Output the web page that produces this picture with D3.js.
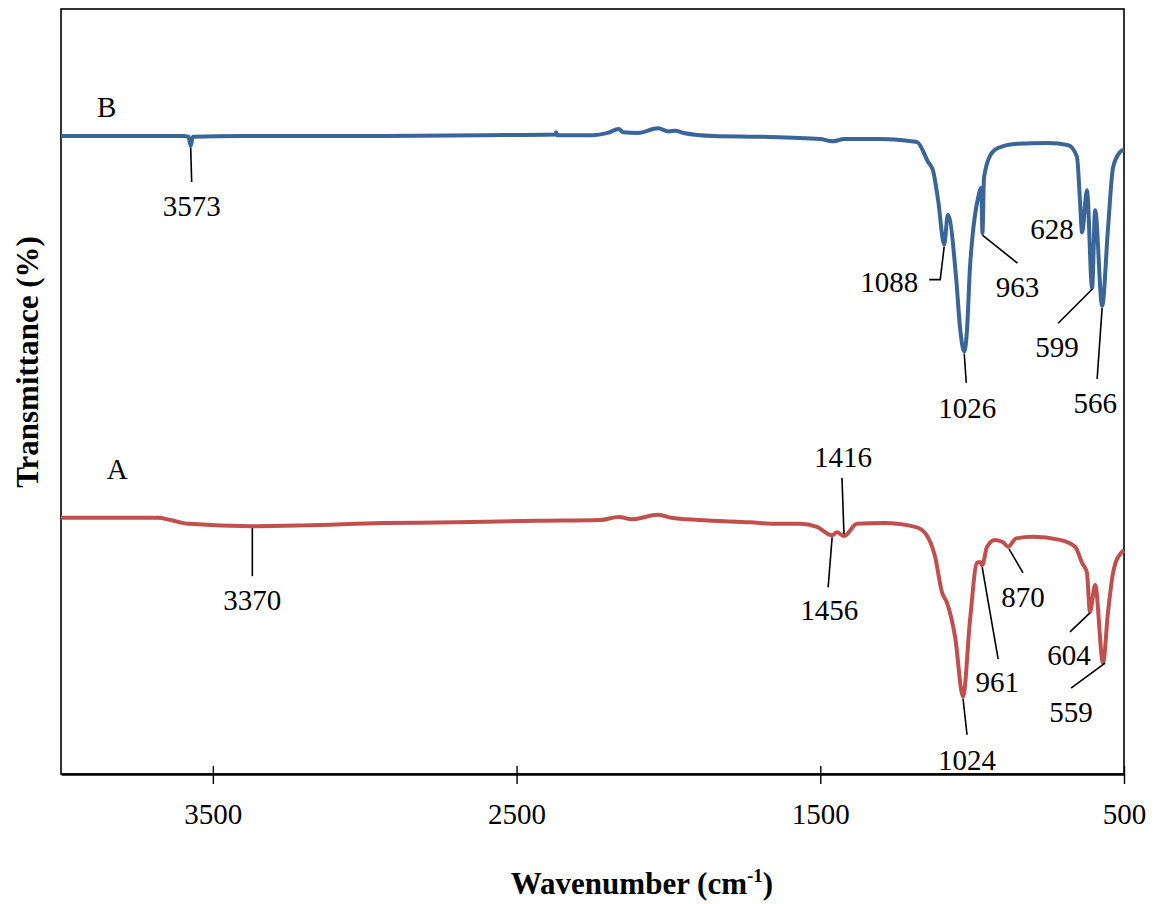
<!DOCTYPE html>
<html>
<head>
<meta charset="utf-8">
<script src="https://cdn.jsdelivr.net/npm/d3@7"></script>
<style>
  html, body { margin: 0; padding: 0; background: #fff; }
  svg text { font-family: "Liberation Serif", "Times New Roman", serif; fill: #000; }
</style>
</head>
<body>
<div id="main"></div>
<script>
// spectrum B (top, blue): [wavenumber, transmittance]
const wavenumbersB = [4000, 3800, 3600, 3580, 3573, 3566, 3400, 3000, 2600, 2372, 2370, 2366, 2250, 2200, 2163, 2150, 2100, 2034, 2000, 1978, 1950, 1850, 1700, 1500, 1461, 1420, 1300, 1200, 1181, 1145, 1129, 1112, 1092, 1080, 1053, 1040, 1026, 1017, 1007, 1000, 980, 970, 966, 961, 940, 917, 851, 750, 684, 655, 645, 638, 622, 605, 595, 572, 553, 536, 513, 500];
const valuesB = [83.4, 83.4, 83.4, 83.3, 82.1, 83.3, 83.4, 83.4, 83.5, 83.6, 83.9, 83.5, 83.5, 83.8, 84.3, 83.9, 83.8, 84.4, 84.0, 84.1, 83.8, 83.4, 83.3, 83.0, 82.7, 83.0, 83.0, 82.7, 82.6, 80.0, 78.9, 75.0, 69.2, 73.1, 65.0, 58.4, 55.2, 58.0, 66.3, 69.8, 75.4, 76.6, 70.7, 77.9, 80.9, 81.8, 82.4, 82.5, 82.2, 80.7, 75.0, 70.8, 76.3, 63.5, 73.7, 61.2, 71.1, 79.3, 81.3, 81.6];

// spectrum A (bottom, red)
const wavenumbersA = [4000, 3680, 3640, 3580, 3370, 3200, 2940, 2700, 2436, 2225, 2163, 2120, 2034, 1990, 1900, 1731, 1642, 1567, 1511, 1461, 1445, 1422, 1379, 1290, 1188, 1155, 1122, 1099, 1083, 1056, 1030, 1007, 984, 974, 967, 951, 925, 898, 882, 855, 800, 711, 661, 638, 622, 612, 595, 569, 553, 536, 510, 500];
const valuesA = [33.5, 33.5, 33.2, 32.7, 32.4, 32.5, 32.8, 32.9, 33.1, 33.2, 33.6, 33.3, 33.9, 33.5, 33.2, 32.9, 32.7, 32.7, 32.3, 31.2, 31.6, 31.1, 32.7, 32.8, 32.3, 31.5, 28.4, 23.7, 22.4, 17.9, 10.1, 20.1, 27.6, 27.7, 27.3, 29.7, 30.6, 30.3, 29.7, 30.8, 31.0, 30.6, 29.7, 27.6, 26.3, 21.2, 24.7, 14.5, 21.0, 26.3, 28.9, 29.2];

const tickValues = [3500, 2500, 1500, 500];

// peak labels: text, wavenumber of the band it marks
const peaksB = ['3573', '1088', '963', '1026', '628', '599', '566'];
const peakWnB = [3573, 1092, 966, 1026, 638, 605, 572];
const peaksA = ['3370', '1416', '1456', '1024', '961', '870', '604', '559'];
const peakWnA = [3370, 1422, 1461, 1030, 967, 882, 612, 569];

// leader line points and label centre, in px relative to the band point
const layoutB = [
  { line: [[0, 2], [1, 36]], label: [1, 60] },
  { line: [[0, 2], [-4, 35], [-15, 35]], label: [-55, 37] },
  { line: [[0, 2], [35, 30]], label: [35, 54] },
  { line: [[0, 2], [2, 31]], label: [3, 56] },
  { line: null, label: [-30, -4] },
  { line: [[0, 1], [-34, 35]], label: [-35, 59] },
  { line: [[0, 2], [-5, 73]], label: [-7, 97] }
];
const layoutA = [
  { line: [[0, 2], [0, 50]], label: [0, 74] },
  { line: [[0, -2], [-2, -58]], label: [-1, -79] },
  { line: [[0, 2], [-4, 52]], label: [-3, 75] },
  { line: [[0, 2], [4, 38]], label: [4, 63] },
  { line: [[0, 2], [16, 94]], label: [15, 117] },
  { line: [[1, 2], [15, 26]], label: [15, 50] },
  { line: [[0, 1], [-20, 20]], label: [-21, 43] },
  { line: [[2, 0], [-32, 25]], label: [-32, 49] }
];

const width = 1159, height = 904;
const plotLeft = 61, plotRight = 1124, plotTop = 9, plotBottom = 774;

const x = d3.scaleLinear().domain([4000, 500]).range([plotLeft, plotRight]);
const y = d3.scaleLinear().domain([0, 100]).range([plotBottom, plotTop]);

const svg = d3.select('div#main').append('svg')
  .attr('width', width).attr('height', height);

// frame
svg.append('rect')
  .attr('x', plotLeft).attr('y', plotTop)
  .attr('width', plotRight - plotLeft).attr('height', plotBottom - plotTop)
  .attr('fill', 'none').attr('stroke', '#000').attr('stroke-width', 1.6);

const xAxis = d3.axisBottom(x).tickValues(tickValues)
  .tickSizeInner(10).tickSizeOuter(0).tickPadding(19)
  .tickFormat(d3.format('d'));
const gx = svg.append('g').attr('transform', `translate(0, ${plotBottom})`).call(xAxis);
gx.select('.domain').attr('stroke-width', 2.6);
gx.selectAll('.tick line').attr('y1', -8).attr('y2', 10).attr('stroke-width', 1.4);
gx.selectAll('.tick text').attr('font-size', 29).attr('font-family', '"Liberation Serif", serif');

const line = d3.line()
  .x(d => x(d[0]))
  .y(d => y(d[1]))
  .curve(d3.curveMonotoneX);

const dataB = wavenumbersB.map((w, i) => [w, valuesB[i]]);
const dataA = wavenumbersA.map((w, i) => [w, valuesA[i]]);

svg.append('path').attr('d', line(dataB))
  .attr('fill', 'none').attr('stroke', '#3a6598').attr('stroke-width', 4).attr('stroke-linejoin', 'round');
svg.append('path').attr('d', line(dataA))
  .attr('fill', 'none').attr('stroke', '#c0504d').attr('stroke-width', 4).attr('stroke-linejoin', 'round');

function valueAt(data, w) {
  const i = data.findIndex(d => d[0] === w);
  return data[i][1];
}

function annotate(texts, wns, layout, data) {
  texts.forEach((t, i) => {
    const px = x(wns[i]), py = y(valueAt(data, wns[i]));
    const L = layout[i];
    if (L.line) {
      svg.append('path')
        .attr('d', d3.line()(L.line.map(p => [px + p[0], py + p[1]])))
        .attr('fill', 'none').attr('stroke', '#000').attr('stroke-width', 1.6);
    }
    svg.append('text')
      .attr('x', px + L.label[0]).attr('y', py + L.label[1])
      .attr('dy', '0.35em')
      .attr('text-anchor', 'middle')
      .attr('font-size', 29)
      .text(t);
  });
}

annotate(peaksB, peakWnB, layoutB, dataB);
annotate(peaksA, peakWnA, layoutA, dataA);

// series names
svg.append('text').attr('x', x(3850)).attr('y', y(valueAt(dataB, 4000)) - 29)
  .attr('dy', '0.35em').attr('text-anchor', 'middle').attr('font-size', 29).text('B');
svg.append('text').attr('x', x(3815)).attr('y', y(valueAt(dataA, 4000)) - 49)
  .attr('dy', '0.35em').attr('text-anchor', 'middle').attr('font-size', 29).text('A');

// axis titles
const xt = svg.append('text')
  .attr('x', 642).attr('y', 894)
  .attr('text-anchor', 'middle')
  .attr('font-size', 31).attr('font-weight', 'bold');
xt.append('tspan').text('Wavenumber (cm');
xt.append('tspan').attr('font-size', 19).attr('dy', -12).text('-1');
xt.append('tspan').attr('dy', 12).text(')');

svg.append('text')
  .attr('transform', 'translate(38, 362) rotate(-90)')
  .attr('text-anchor', 'middle')
  .attr('font-size', 31).attr('font-weight', 'bold')
  .text('Transmittance (%)');
</script>
</body>
</html>
